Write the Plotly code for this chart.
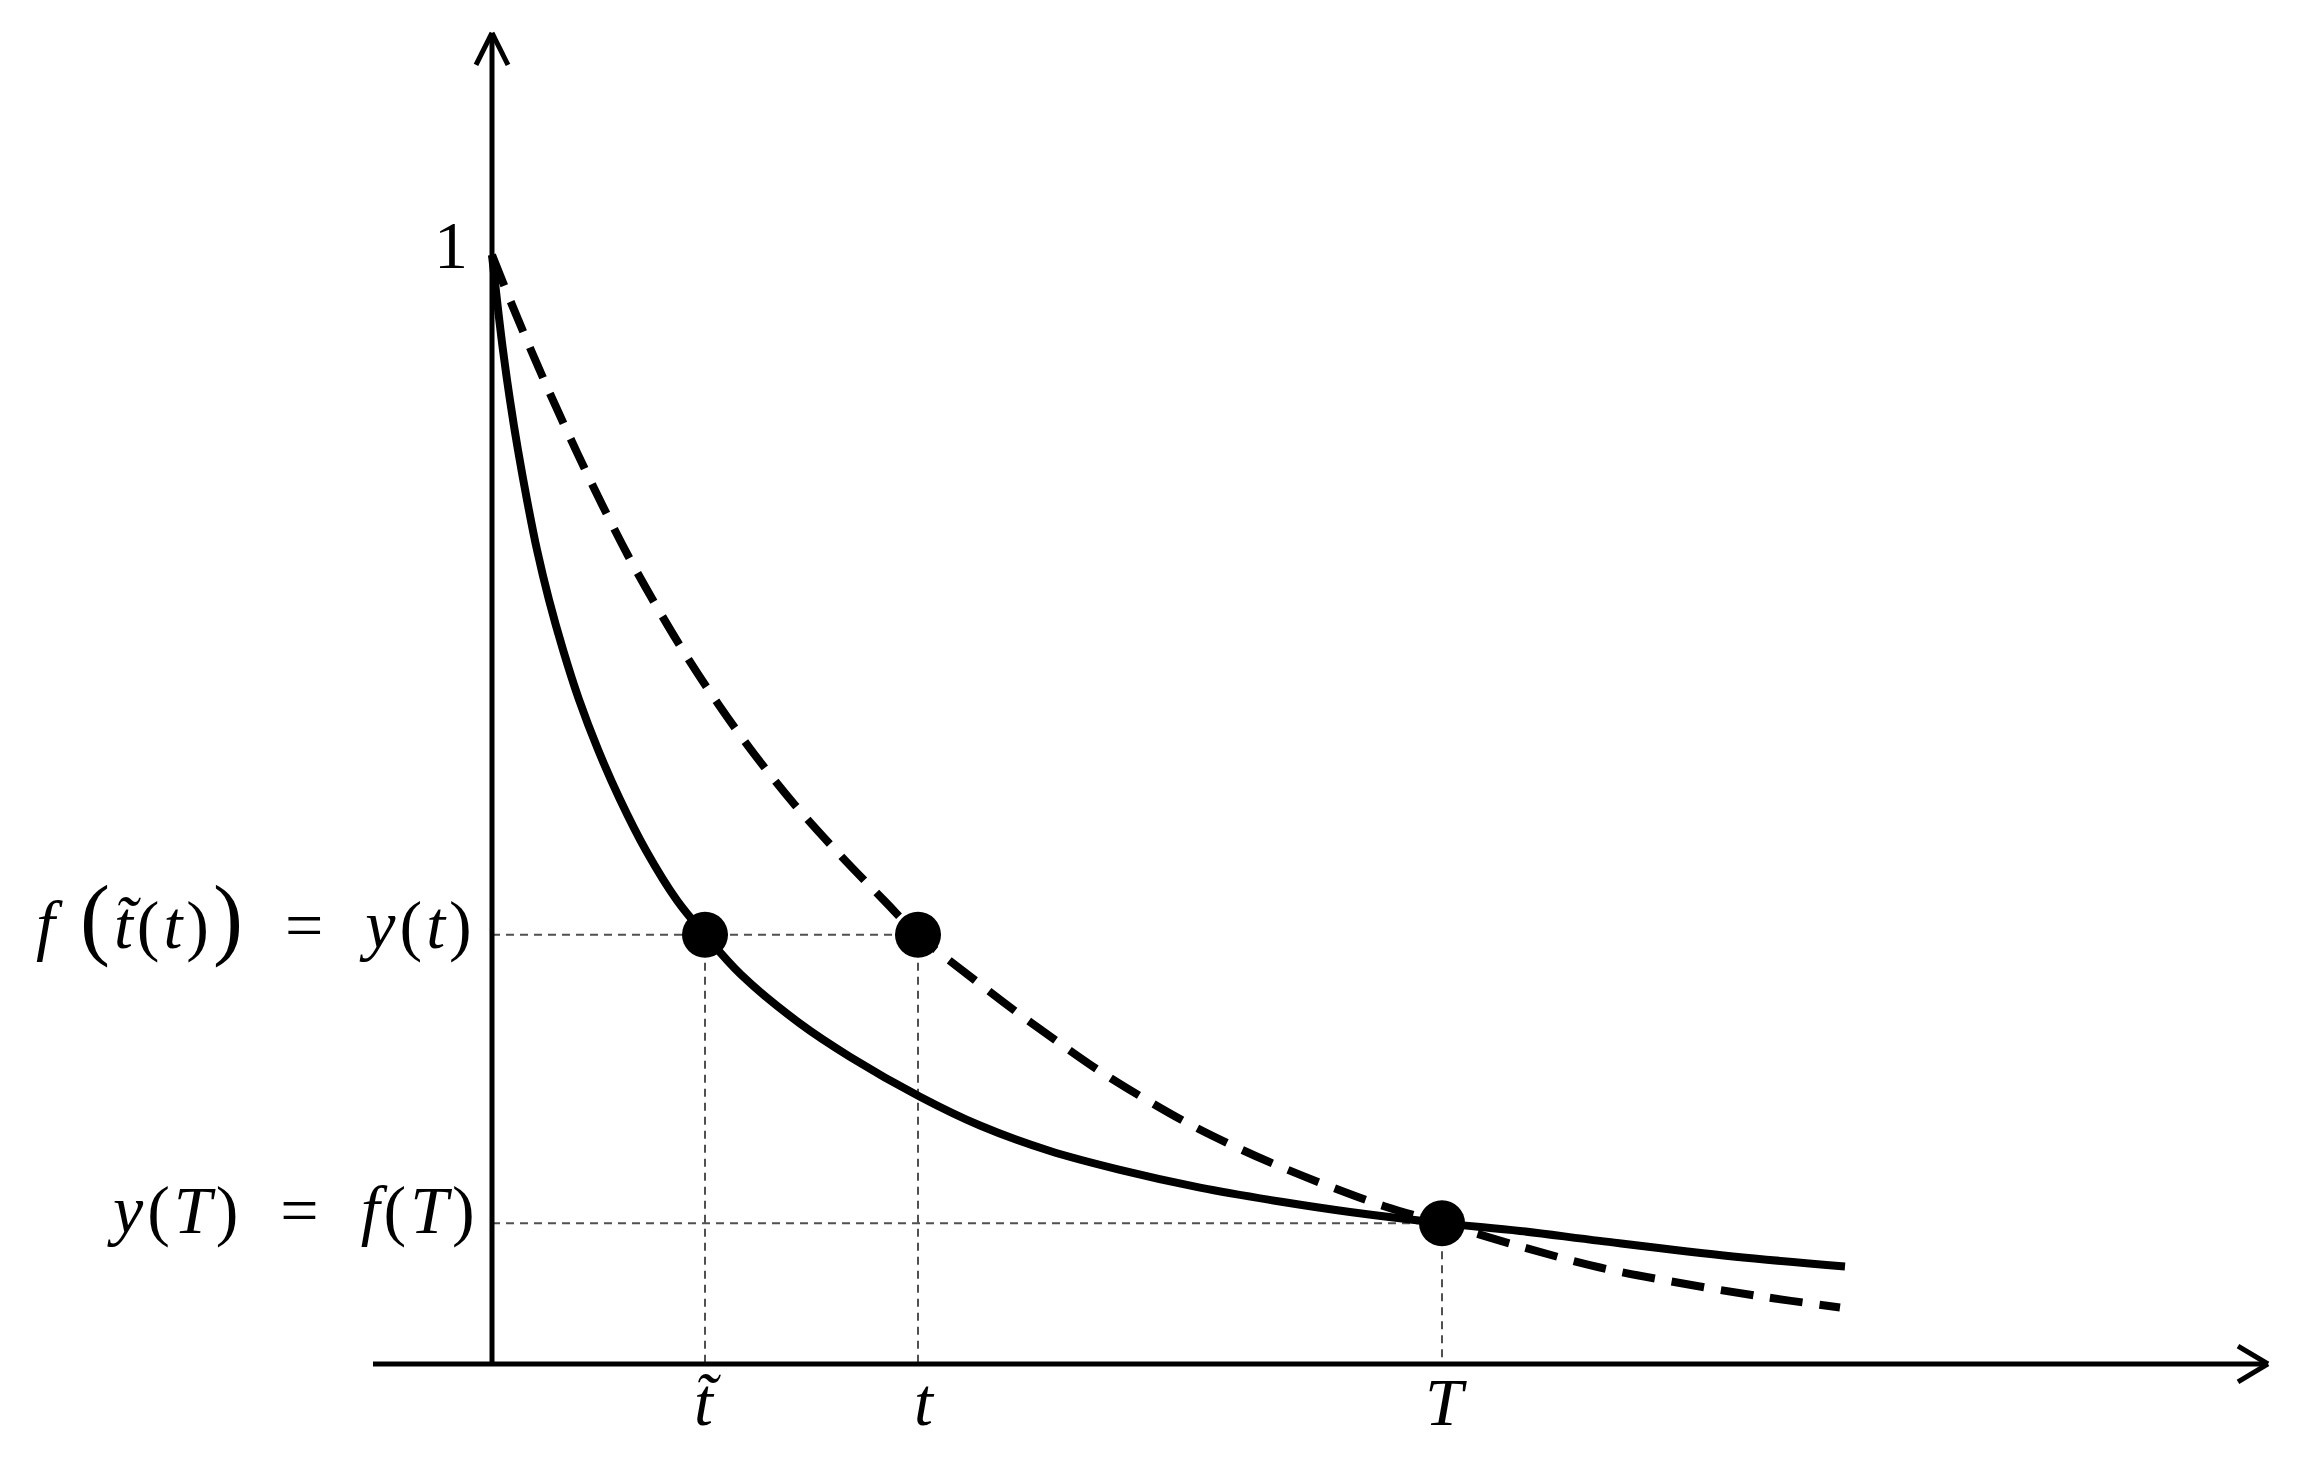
import plotly.graph_objects as go

# ---- data (arbitrary time units / value units) ----
solid_x = [0.00, 0.05, 0.11, 0.18, 0.26, 0.35, 0.45, 0.57, 0.71, 0.87, 1.06, 1.28, 1.54, 1.85, 2.13,
           2.49, 3.08, 3.58, 4.28, 4.88, 5.58, 6.28, 7.08, 7.91, 8.58, 9.50, 10.28, 11.08, 12.41, 13.53]
solid_y = [1.000, 0.959, 0.914, 0.869, 0.824, 0.779, 0.734, 0.689, 0.644, 0.599, 0.554, 0.509, 0.463,
           0.418, 0.387, 0.351, 0.307, 0.277, 0.241, 0.215, 0.192, 0.175, 0.159, 0.146, 0.137, 0.127,
           0.120, 0.111, 0.097, 0.088]

dashed_x = [0.00, 0.20, 0.41, 0.63, 0.86, 1.10, 1.36, 1.64, 1.94, 2.27, 2.63, 3.03, 3.48, 3.92, 4.26,
            4.83, 5.25, 5.68, 6.08, 6.53, 6.98, 7.43, 7.88, 8.38, 8.93, 9.50, 10.28, 11.08, 11.88,
            12.68, 13.48]
dashed_y = [1.000, 0.955, 0.910, 0.865, 0.820, 0.775, 0.729, 0.684, 0.639, 0.594, 0.549, 0.504, 0.459,
            0.418, 0.387, 0.346, 0.317, 0.289, 0.264, 0.239, 0.216, 0.196, 0.178, 0.160, 0.142, 0.127,
            0.106, 0.087, 0.073, 0.061, 0.051]

point_names = ["t_tilde", "t", "T"]
point_x = [2.13, 4.26, 9.50]
point_y = [0.387, 0.387, 0.127]

x_tick_labels = ["<i>t̃</i>", "<i>t</i>", "<i>T</i>"]
y_one_label = "1"
y_label_upper = ("<span style='letter-spacing:4px'><i>f</i> <span style='font-size:90px'>(</span><i>t̃</i>(<i>t</i>)"
                 "<span style='font-size:90px'>)</span>\u2002=\u2002<i>y</i>(<i>t</i>)</span>")
y_label_lower = "<span style='letter-spacing:4px'><i>y</i>(<i>T</i>)\u2002=\u2002<i>f</i>(<i>T</i>)</span>"

# ---- figure ----
W, H = 2313, 1472
FONT = "Liberation Serif"
x_range = [-4.92, 18.21]
y_range = [-0.0974, 1.2299]

fig = go.Figure()

# guide lines (thin dashed gray)
guide = dict(color="#505050", width=2, dash="8px,6px")
fig.add_trace(go.Scatter(x=[0, point_x[1]], y=[point_y[0], point_y[0]], mode="lines", line=guide, hoverinfo="skip"))
fig.add_trace(go.Scatter(x=[0, point_x[2]], y=[point_y[2], point_y[2]], mode="lines", line=guide, hoverinfo="skip"))
for px, py in zip(point_x, point_y):
    fig.add_trace(go.Scatter(x=[px, px], y=[py, 0], mode="lines", line=guide, hoverinfo="skip"))

# curves
fig.add_trace(go.Scatter(x=solid_x, y=solid_y, mode="lines",
                         line=dict(color="black", width=8, shape="spline", smoothing=1.0), hoverinfo="skip"))
fig.add_trace(go.Scatter(x=dashed_x, y=dashed_y, mode="lines",
                         line=dict(color="black", width=8, dash="33px,17px", shape="spline", smoothing=1.0),
                         hoverinfo="skip"))

# points
fig.add_trace(go.Scatter(x=point_x, y=point_y, mode="markers",
                         marker=dict(color="black", size=46, line=dict(width=0)), hoverinfo="skip"))

# axes with open arrow heads
ax = dict(color="black", width=5)
shapes = [
    dict(type="line", x0=-1.19, y0=0, x1=17.76, y1=0, line=ax),
    dict(type="line", x0=0, y0=0, x1=0, y1=1.2002, line=ax),
    # y arrow
    dict(type="line", x0=-0.16, y0=1.1713, x1=0, y1=1.2002, line=ax),
    dict(type="line", x0=0.16, y0=1.1713, x1=0, y1=1.2002, line=ax),
    # x arrow
    dict(type="line", x0=17.46, y0=0.0162, x1=17.76, y1=0, line=ax),
    dict(type="line", x0=17.46, y0=-0.0162, x1=17.76, y1=0, line=ax),
]

annots = []
tf = dict(family=FONT, size=68, color="black")
annots.append(dict(x=-0.41, y=1.009, text=y_one_label, showarrow=False, xanchor="center", yanchor="middle", font=tf))
annots.append(dict(x=-0.14, y=0.402, text=y_label_upper, showarrow=False, xanchor="right", yanchor="middle", font=tf))
annots.append(dict(x=-0.11, y=0.139, text=y_label_lower, showarrow=False, xanchor="right", yanchor="middle", font=tf))
x_shifts = [2, 6, 4]
for px, lab, xs in zip(point_x, x_tick_labels, x_shifts):
    annots.append(dict(x=px, y=-0.034, text=lab, showarrow=False, xanchor="center", yanchor="middle",
                       xshift=xs, font=tf))

fig.update_layout(
    width=W, height=H,
    margin=dict(l=0, r=0, t=0, b=0, pad=0),
    paper_bgcolor="white", plot_bgcolor="white",
    showlegend=False,
    xaxis=dict(range=x_range, visible=False, fixedrange=True),
    yaxis=dict(range=y_range, visible=False, fixedrange=True),
    shapes=shapes,
    annotations=annots,
)

fig.write_html("out.html", config={"displayModeBar": False},
               post_script="document.body.style.margin='0';document.body.style.overflow='hidden';")
